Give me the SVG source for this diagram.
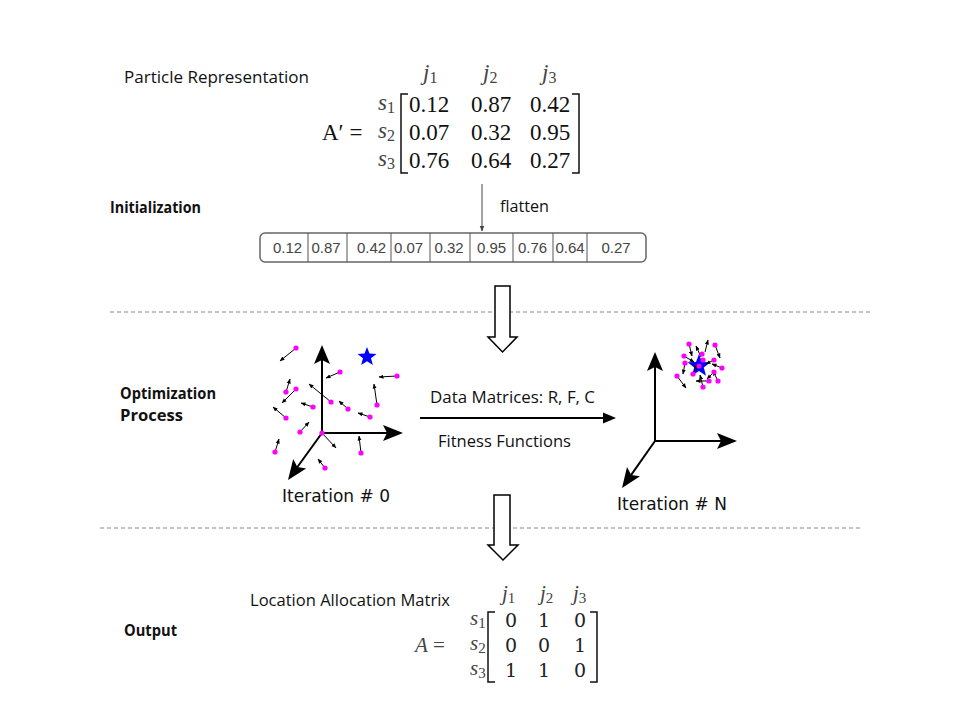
<svg xmlns="http://www.w3.org/2000/svg" width="960" height="720" viewBox="0 0 960 720">
<style>
.lbl{font-family:"Open Sans","Noto Sans",sans-serif;font-size:16px;fill:#111}
.bold{font-family:"Open Sans","Noto Sans",sans-serif;font-size:16px;font-weight:bold;fill:#111}
.dv{font-family:"DejaVu Sans",sans-serif;font-size:17px;fill:#111}
.mx{font-family:"Liberation Serif",serif;font-size:23px;fill:#111}
.mxl{font-family:"Liberation Serif",serif;font-size:23px;fill:#444}
.mb{font-family:"DejaVu Serif","Liberation Serif",serif;font-size:19px;fill:#222}
.mbl{font-family:"Liberation Serif",serif;font-size:21px;fill:#444}
.cell{font-family:"Liberation Sans",sans-serif;font-size:15px;fill:#444;text-anchor:middle}
.dash{stroke:#888;stroke-width:1;stroke-dasharray:4 3;fill:none}
.hollow{fill:#fff;stroke:#000;stroke-width:1.5}
.ax{stroke:#000;stroke-width:2;fill:none}
.axh{fill:#000}
.pa{stroke:#000;stroke-width:1;fill:none;marker-end:url(#sa)}
.dot{fill:#ff00ff}
.star{fill:#0000ff}
.br{stroke:#111;stroke-width:1.5;fill:none}
</style>
<defs>
<marker id="sa" viewBox="0 0 10 10" refX="9" refY="5" markerWidth="5" markerHeight="5" orient="auto" markerUnits="strokeWidth">
<path d="M0,1 L10,5 L0,9 z" fill="#000"/>
</marker>
<marker id="fa" viewBox="0 0 10 10" refX="9" refY="5" markerWidth="6" markerHeight="6" orient="auto" markerUnits="strokeWidth">
<path d="M0,1 L10,5 L0,9 z" fill="#444"/>
</marker>
<path id="starp" d="M0,-10 L2.47,-3.4 L9.51,-3.09 L3.99,1.3 L5.88,8.09 L0,4.2 L-5.88,8.09 L-3.99,1.3 L-9.51,-3.09 L-2.47,-3.4 Z"/>
</defs>
<rect width="960" height="720" fill="#fff"/>

<g id="section-labels">
<text class="bold" x="110" y="213" textLength="91" lengthAdjust="spacingAndGlyphs">Initialization</text>
<text class="bold" x="120" y="399" textLength="96" lengthAdjust="spacingAndGlyphs">Optimization</text>
<text class="bold" x="120" y="421" textLength="63" lengthAdjust="spacingAndGlyphs">Process</text>
<text class="bold" x="124" y="636" textLength="53" lengthAdjust="spacingAndGlyphs">Output</text>
</g>

<g id="particle-representation">
<text class="lbl" x="124" y="83" textLength="185" lengthAdjust="spacingAndGlyphs">Particle Representation</text>
<text class="mxl" x="423" y="80" font-style="italic">j<tspan font-size="16" dy="3" font-style="normal">1</tspan></text>
<text class="mxl" x="483" y="80" font-style="italic">j<tspan font-size="16" dy="3" font-style="normal">2</tspan></text>
<text class="mxl" x="542" y="80" font-style="italic">j<tspan font-size="16" dy="3" font-style="normal">3</tspan></text>
<text class="mx" x="322" y="140">A′ =</text>
<text class="mxl" x="378" y="110" font-style="italic">s<tspan font-size="16" dy="3" font-style="normal">1</tspan></text>
<text class="mxl" x="378" y="138" font-style="italic">s<tspan font-size="16" dy="3" font-style="normal">2</tspan></text>
<text class="mxl" x="378" y="166" font-style="italic">s<tspan font-size="16" dy="3" font-style="normal">3</tspan></text>
<path class="br" d="M408,94 L401,94 L401,173 L408,173"/>
<path class="br" d="M572,94 L579,94 L579,173 L572,173"/>
<g class="mx" text-anchor="middle">
<text x="429" y="112">0.12</text><text x="491" y="112">0.87</text><text x="550" y="112">0.42</text>
<text x="429" y="140">0.07</text><text x="491" y="140">0.32</text><text x="550" y="140">0.95</text>
<text x="429" y="168">0.76</text><text x="491" y="168">0.64</text><text x="550" y="168">0.27</text>
</g>
</g>

<g id="flattened-vector">
<rect x="260" y="233" width="386" height="29" rx="5" ry="5" fill="#fff" stroke="#666" stroke-width="1.5"/>
<g stroke="#555" stroke-width="1">
<line x1="308" y1="233" x2="308" y2="262"/><line x1="347" y1="233" x2="347" y2="262"/>
<line x1="391" y1="233" x2="391" y2="262"/><line x1="430" y1="233" x2="430" y2="262"/>
<line x1="470" y1="233" x2="470" y2="262"/><line x1="513" y1="233" x2="513" y2="262"/>
<line x1="553" y1="233" x2="553" y2="262"/><line x1="587" y1="233" x2="587" y2="262"/>
</g>
<text class="cell" x="287.5" y="253">0.12</text>
<text class="cell" x="326" y="253">0.87</text>
<text class="cell" x="371.5" y="253">0.42</text>
<text class="cell" x="408.5" y="253">0.07</text>
<text class="cell" x="449" y="253">0.32</text>
<text class="cell" x="491.5" y="253">0.95</text>
<text class="cell" x="532.5" y="253">0.76</text>
<text class="cell" x="570" y="253">0.64</text>
<text class="cell" x="616" y="253">0.27</text>
</g>

<g id="iteration-0">
<line class="ax" x1="322" y1="433" x2="322" y2="360"/>
<polygon class="axh" points="322,345 314,364 322,360 330,364"/>
<line class="ax" x1="322" y1="433" x2="387" y2="433"/>
<polygon class="axh" points="403,433 383,425 387,433 383,441"/>
<line class="ax" x1="322" y1="433" x2="297.4" y2="467"/>
<polygon class="axh" points="288,480 293.2,459.1 297.4,467 306.2,468.5"/>
<use href="#starp" class="star" transform="translate(367,357)"/>
<g class="pa">
<line x1="296" y1="348" x2="280" y2="361"/>
<line x1="340" y1="372" x2="326" y2="378"/>
<line x1="397" y1="376" x2="379" y2="377"/>
<line x1="286" y1="392" x2="290" y2="379"/>
<line x1="296" y1="389" x2="282" y2="403"/>
<line x1="331" y1="402" x2="309" y2="384"/>
<line x1="377" y1="405" x2="374" y2="384"/>
<line x1="348" y1="409" x2="339" y2="401"/>
<line x1="313" y1="407" x2="301" y2="403"/>
<line x1="286" y1="418" x2="273" y2="407"/>
<line x1="370" y1="417" x2="358" y2="413"/>
<line x1="300" y1="432" x2="309" y2="422"/>
<line x1="322" y1="433" x2="336" y2="448"/>
<line x1="361" y1="453" x2="359" y2="436"/>
<line x1="275" y1="452" x2="279" y2="439"/>
<line x1="325" y1="468" x2="318" y2="459"/>
</g>
<g class="dot">
<circle cx="296" cy="348" r="2.6"/><circle cx="340" cy="372" r="2.6"/><circle cx="397" cy="376" r="2.6"/>
<circle cx="286" cy="392" r="2.6"/><circle cx="296" cy="389" r="2.6"/><circle cx="331" cy="402" r="2.6"/>
<circle cx="377" cy="405" r="2.6"/><circle cx="348" cy="409" r="2.6"/><circle cx="313" cy="407" r="2.6"/>
<circle cx="286" cy="418" r="2.6"/><circle cx="370" cy="417" r="2.6"/><circle cx="300" cy="432" r="2.6"/>
<circle cx="322" cy="433" r="2.6"/><circle cx="361" cy="453" r="2.6"/><circle cx="275" cy="452" r="2.6"/>
<circle cx="325" cy="468" r="2.6"/>
</g>
<text class="dv" x="282" y="502">Iteration # 0</text>
</g>

<g id="iteration-n">
<line class="ax" x1="655" y1="441" x2="655" y2="367"/>
<polygon class="axh" points="655,352 647,371 655,367 663,371"/>
<line class="ax" x1="655" y1="441" x2="721" y2="441"/>
<polygon class="axh" points="737,441 717,433 721,441 717,449"/>
<line class="ax" x1="655" y1="441" x2="631.2" y2="474.9"/>
<polygon class="axh" points="622,488 627,467 631.2,474.9 640,476.2"/>
<use href="#starp" class="star" transform="translate(699,366) scale(1.2)"/>
<g class="pa">
<line x1="689" y1="344" x2="692" y2="356"/>
<line x1="715" y1="345" x2="720" y2="358"/>
<line x1="705" y1="352" x2="708" y2="340"/>
<line x1="684" y1="356" x2="694" y2="362"/>
<line x1="714" y1="360" x2="706" y2="364"/>
<line x1="685" y1="363" x2="683" y2="374"/>
<line x1="722" y1="368" x2="712" y2="364"/>
<line x1="714" y1="372" x2="707" y2="379"/>
<line x1="677" y1="376" x2="686" y2="388"/>
<line x1="693" y1="374" x2="697" y2="364"/>
<line x1="709" y1="381" x2="696" y2="381"/>
<line x1="718" y1="381" x2="713" y2="371"/>
<line x1="703" y1="387" x2="700" y2="375"/>
<line x1="701" y1="357" x2="696" y2="346"/>
</g>
<g class="dot">
<circle cx="689" cy="344" r="2.6"/><circle cx="684" cy="356" r="2.6"/><circle cx="702" cy="354" r="2.6"/>
<circle cx="715" cy="345" r="2.6"/><circle cx="685" cy="363" r="2.6"/><circle cx="703" cy="360" r="2.6"/>
<circle cx="714" cy="360" r="2.6"/><circle cx="699" cy="366" r="2.6"/><circle cx="722" cy="368" r="2.6"/>
<circle cx="714" cy="372" r="2.6"/><circle cx="677" cy="376" r="2.6"/><circle cx="693" cy="374" r="2.6"/>
<circle cx="709" cy="381" r="2.6"/><circle cx="718" cy="381" r="2.6"/><circle cx="703" cy="387" r="2.6"/>
</g>
<text class="dv" x="617" y="510">Iteration # N</text>
</g>

<g id="process-label">
<text class="lbl" x="430" y="403" textLength="165" lengthAdjust="spacingAndGlyphs">Data Matrices: R, F, C</text>
<text class="lbl" x="438" y="447" textLength="133" lengthAdjust="spacingAndGlyphs">Fitness Functions</text>
</g>

<g id="location-allocation">
<text class="lbl" x="250" y="606" textLength="200" lengthAdjust="spacingAndGlyphs">Location Allocation Matrix</text>
<text class="mbl" x="502" y="600" font-style="italic">j<tspan font-size="15" dy="3" font-style="normal">1</tspan></text>
<text class="mbl" x="540" y="600" font-style="italic">j<tspan font-size="15" dy="3" font-style="normal">2</tspan></text>
<text class="mbl" x="573" y="600" font-style="italic">j<tspan font-size="15" dy="3" font-style="normal">3</tspan></text>
<text class="mbl" x="415" y="652"><tspan font-style="italic">A</tspan> =</text>
<text class="mbl" x="470" y="625" font-style="italic">s<tspan font-size="15" dy="3" font-style="normal">1</tspan></text>
<text class="mbl" x="470" y="650" font-style="italic">s<tspan font-size="15" dy="3" font-style="normal">2</tspan></text>
<text class="mbl" x="470" y="675" font-style="italic">s<tspan font-size="15" dy="3" font-style="normal">3</tspan></text>
<path class="br" d="M495,612 L488,612 L488,682 L495,682"/>
<path class="br" d="M590,612 L597,612 L597,682 L590,682"/>
<g class="mb" text-anchor="middle">
<text x="511" y="627">0</text><text x="544" y="627">1</text><text x="580" y="627">0</text>
<text x="511" y="652">0</text><text x="544" y="652">0</text><text x="580" y="652">1</text>
<text x="511" y="677">1</text><text x="544" y="677">1</text><text x="580" y="677">0</text>
</g>
</g>

<g id="separators">
<line class="dash" x1="110" y1="312" x2="870" y2="312"/>
<line class="dash" x1="100" y1="528" x2="860" y2="528"/>
</g>

<g id="connectors">
<line x1="482" y1="184" x2="482" y2="231" stroke="#444" stroke-width="1" marker-end="url(#fa)"/>
<text class="lbl" x="500" y="212" textLength="49" lengthAdjust="spacingAndGlyphs">flatten</text>
<polygon class="hollow" points="495,286 510,286 510,337 517,337 502.5,352 488,337 495,337"/>
<line x1="420" y1="418" x2="604" y2="418" stroke="#000" stroke-width="2"/>
<polygon points="616,418 603,412.5 603,423.5" fill="#000"/>
<polygon class="hollow" points="494,495 510,495 510,545 518,545 503,560 488,545 494,545"/>
</g>
</svg>
